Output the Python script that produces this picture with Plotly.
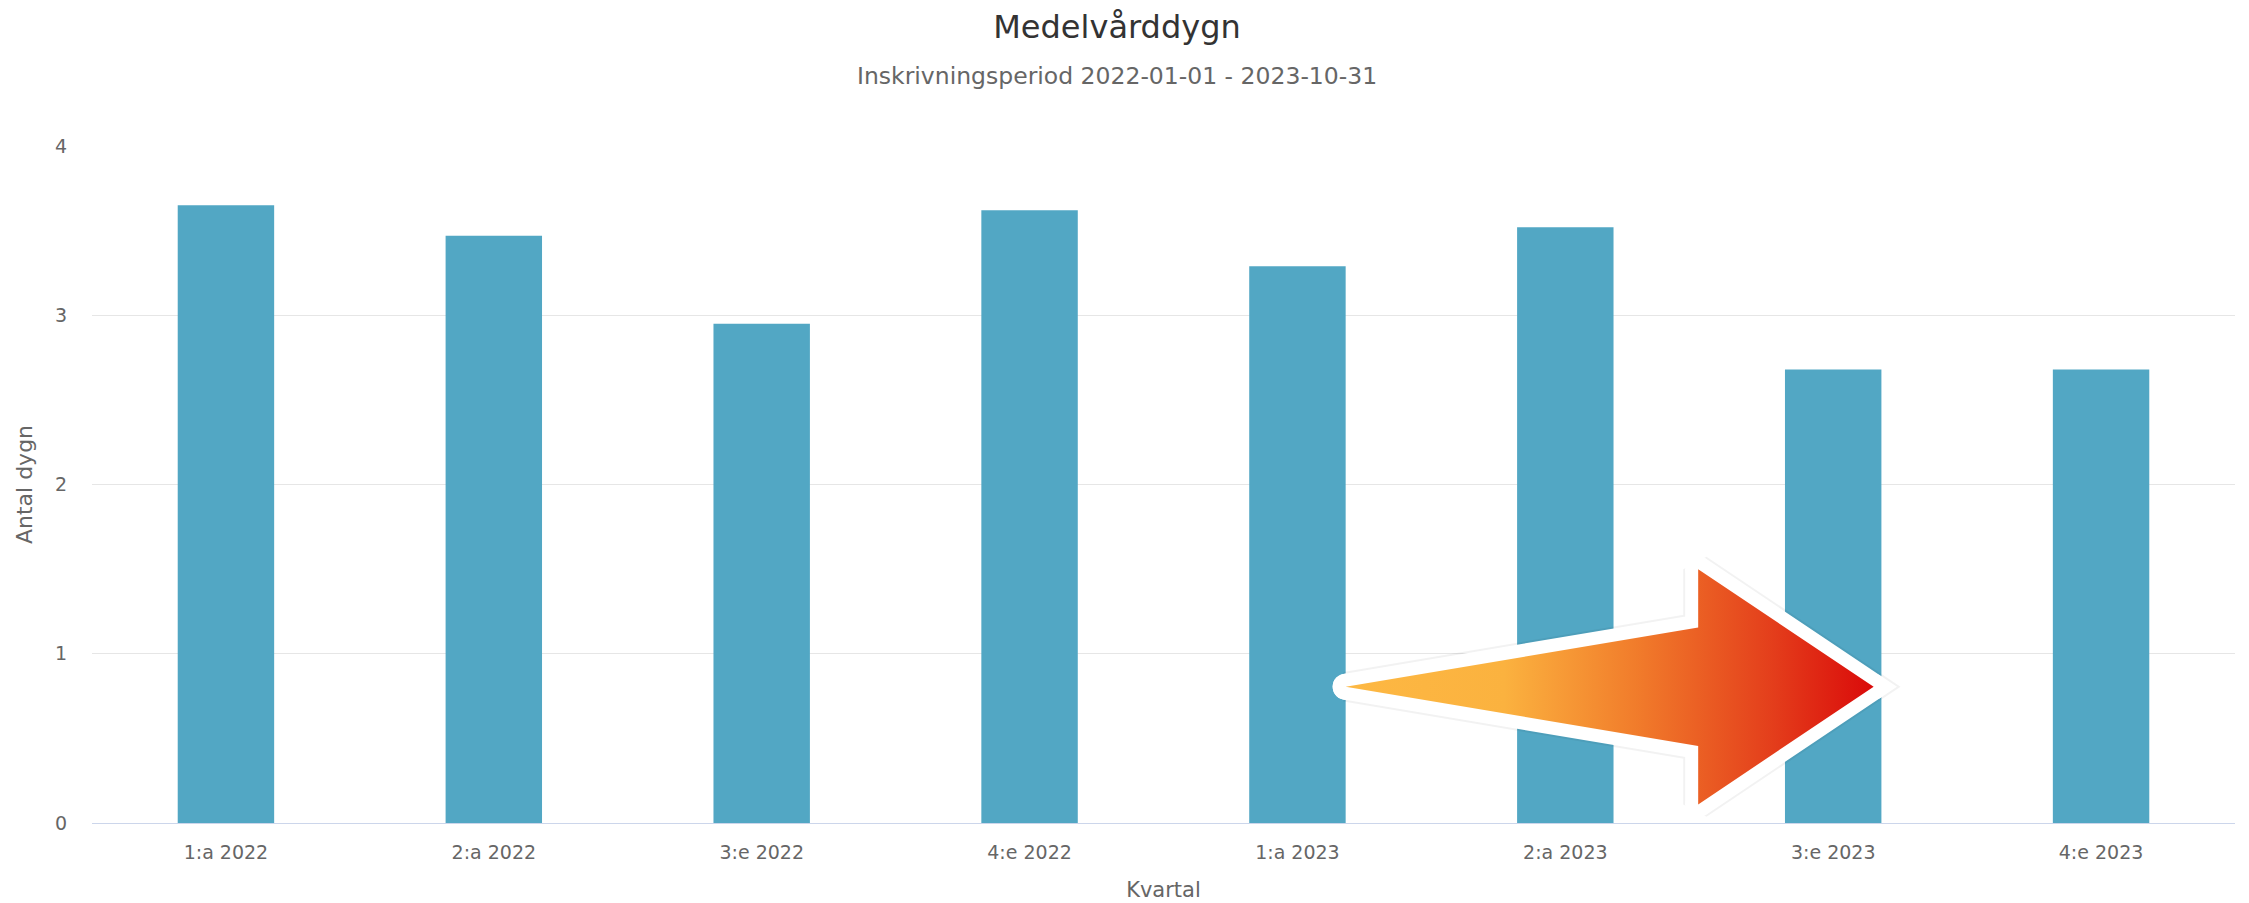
import plotly.graph_objects as go

# Kvartal och medelvårddygn
kvartal = ["1:a 2022", "2:a 2022", "3:e 2022", "4:e 2022",
           "1:a 2023", "2:a 2023", "3:e 2023", "4:e 2023"]
medelvarddygn = [3.65, 3.47, 2.95, 3.62, 3.29, 3.52, 2.68, 2.68]

y_ticks = [0, 1, 2, 3, 4]

# Pil som dekoration (x i kategoriindex, y i antal dygn)
pil_x = [4.18, 5.496, 5.496, 6.151, 5.496, 5.496, 4.18]
pil_y = [0.805, 1.155, 1.50, 0.805, 0.11, 0.455, 0.805]

W, H = 2249, 903
M_L, M_R, M_T, M_B = 92, 14, 146, 80
plot_w = W - M_L - M_R
plot_h = H - M_T - M_B
center_px = 1117  # rubrikernas mittlinje i pixlar

TEXT_FONT = "DejaVu Sans"

fig = go.Figure()

fig.add_trace(go.Bar(
    x=kvartal,
    y=medelvarddygn,
    marker=dict(color="#52a7c4", line=dict(width=0)),
    showlegend=False,
    hoverinfo="x+y",
))

# Svag skugga runt pilens vita kant
fig.add_trace(go.Scatter(
    x=pil_x, y=pil_y, xaxis="x2", yaxis="y2",
    mode="lines", fill="toself", fillcolor="white",
    line=dict(color="rgba(0,0,0,0.05)", width=30),
    showlegend=False, hoverinfo="skip",
))
# Vit kontur med rundade hörn
fig.add_trace(go.Scatter(
    x=pil_x, y=pil_y, xaxis="x2", yaxis="y2",
    mode="lines+markers", fill="toself", fillcolor="white",
    line=dict(color="white", width=26),
    marker=dict(color="white", size=26, line=dict(width=0)),
    showlegend=False, hoverinfo="skip",
))
# Pilens gradientfyllning
fig.add_trace(go.Scatter(
    x=pil_x, y=pil_y, xaxis="x2", yaxis="y2",
    mode="lines", fill="toself",
    fillgradient=dict(
        type="horizontal",
        colorscale=[[0.0, "#fdb843"], [0.3, "#fbb23f"], [0.55, "#f17c2b"],
                    [0.8, "#e4401c"], [1.0, "#da0a0a"]],
    ),
    line=dict(width=0),
    showlegend=False, hoverinfo="skip",
))

fig.update_layout(
    width=W, height=H,
    margin=dict(l=M_L, r=M_R, t=M_T, b=M_B, autoexpand=False),
    paper_bgcolor="white",
    plot_bgcolor="white",
    bargap=0.64,
    title=dict(
        text="Medelvårddygn",
        x=center_px / W, xanchor="center", xref="container",
        y=1 - 27 / H, yanchor="middle", yref="container",
        font=dict(family=TEXT_FONT, size=32, color="#333333"),
    ),
    xaxis=dict(
        type="category",
        range=[-0.5, len(kvartal) - 0.5],
        automargin=False,
        showgrid=False, zeroline=False,
        showline=True, linecolor="#ccd6eb", linewidth=1,
        ticks="", ticklabelstandoff=12,
        tickfont=dict(family=TEXT_FONT, size=19, color="#666666"),
        title=dict(text="Kvartal", standoff=20,
                   font=dict(family=TEXT_FONT, size=21, color="#666666")),
        fixedrange=True,
    ),
    yaxis=dict(
        range=[0, 4],
        tickvals=y_ticks,
        automargin=False,
        showgrid=True, gridcolor="#e6e6e6", gridwidth=1,
        zeroline=False, showline=False,
        ticks="", ticklabelstandoff=24,
        tickfont=dict(family=TEXT_FONT, size=19, color="#666666"),
        title=dict(text="Antal dygn", standoff=16,
                   font=dict(family=TEXT_FONT, size=22, color="#666666")),
        fixedrange=True,
    ),
    xaxis2=dict(overlaying="x", range=[-0.5, len(kvartal) - 0.5],
                visible=False, fixedrange=True),
    yaxis2=dict(overlaying="y", range=[0, 4], visible=False, fixedrange=True),
    annotations=[dict(
        text="Inskrivningsperiod 2022-01-01 - 2023-10-31",
        xref="paper", yref="paper",
        x=(center_px - M_L) / plot_w, y=(H - M_B - 76) / plot_h,
        xanchor="center", yanchor="middle",
        showarrow=False,
        font=dict(family=TEXT_FONT, size=23.5, color="#666666"),
    )],
)

fig.write_html("out.html")
